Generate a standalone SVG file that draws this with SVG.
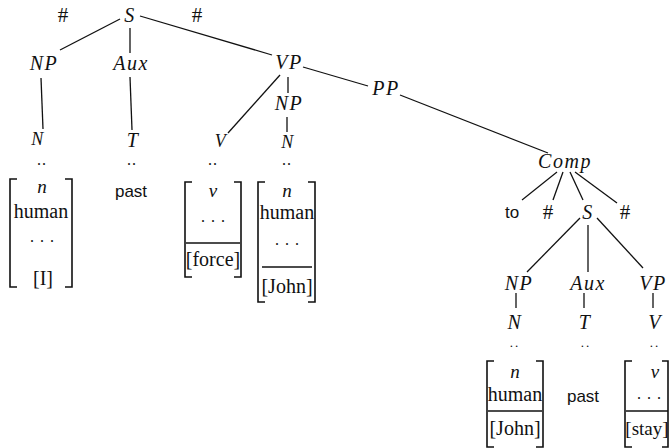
<svg xmlns="http://www.w3.org/2000/svg" width="671" height="448" viewBox="0 0 671 448">
<style>
.cat{font-family:"Liberation Serif",serif;font-style:italic;font-size:20px;letter-spacing:1.5px;fill:#111;text-anchor:middle}
.sm{font-size:18px}
.rm{font-family:"Liberation Serif",serif;font-size:20px;fill:#111;text-anchor:middle}
.it{font-family:"Liberation Serif",serif;font-style:italic;font-size:19px;fill:#111;text-anchor:middle}
.sn{font-family:"Liberation Sans",sans-serif;font-size:17px;fill:#111;text-anchor:middle}
.hs{font-family:"Liberation Serif",serif;font-size:21px;fill:#111;text-anchor:middle}
.dt{font-family:"Liberation Serif",serif;font-size:16px;fill:#111;text-anchor:middle;letter-spacing:1px}
.dtl{font-family:"Liberation Serif",serif;font-size:13px;fill:#111;text-anchor:middle;letter-spacing:2px}
.dt3{font-family:"Liberation Serif",serif;font-size:16px;fill:#111;text-anchor:middle;letter-spacing:6px}
.br{fill:none;stroke:#111;stroke-width:1.6}
.ln{stroke:#111;stroke-width:1.3}
#edges line{stroke:#111;stroke-width:1.3;fill:none}
</style>
<rect width="671" height="448" fill="#fff"/>
<g id="edges">
<line x1="120" y1="19" x2="60" y2="50"/>
<line x1="130" y1="28" x2="130" y2="53"/>
<line x1="140" y1="16" x2="272" y2="55"/>
<line x1="41" y1="78" x2="43" y2="129"/>
<line x1="130" y1="77" x2="132" y2="130"/>
<line x1="280" y1="75" x2="228" y2="133"/>
<line x1="288" y1="77" x2="288" y2="93"/>
<line x1="287" y1="117" x2="287" y2="132"/>
<line x1="303" y1="67" x2="368" y2="86"/>
<line x1="400" y1="95" x2="548" y2="153"/>
<line x1="557" y1="172" x2="522" y2="200"/>
<line x1="563" y1="172" x2="553" y2="200"/>
<line x1="570" y1="172" x2="583" y2="200"/>
<line x1="575" y1="172" x2="617" y2="203"/>
<line x1="580" y1="218" x2="527" y2="272"/>
<line x1="588" y1="225" x2="588" y2="272"/>
<line x1="597" y1="218" x2="643" y2="268"/>
<line x1="516" y1="293" x2="516" y2="308"/>
<line x1="584" y1="293" x2="584" y2="308"/>
<line x1="653" y1="293" x2="653" y2="308"/>
</g>
<g id="hash1"><text class="hs" x="63" y="22">#</text></g>
<g id="S1"><text class="cat" x="130" y="22">S</text></g>
<g id="hash2"><text class="hs" x="197" y="22">#</text></g>
<g id="NP1"><text class="cat" x="44" y="70">NP</text></g>
<g id="Aux1"><text class="cat" x="131" y="70">Aux</text></g>
<g id="VP1"><text class="cat" x="289" y="69">VP</text></g>
<g id="N1"><text class="cat sm" x="38" y="145">N</text></g>
<g id="T1"><text class="cat" x="133" y="147">T</text></g>
<g id="V1"><text class="cat sm" x="221" y="147">V</text></g>
<g id="NP2"><text class="cat" x="289" y="110">NP</text></g>
<g id="N2"><text class="cat sm" x="288" y="148">N</text></g>
<g id="PP"><text class="cat" x="386" y="95">PP</text></g>

<g id="feat1">
<text class="dt" x="42" y="165">..</text>
<path class="br" d="M17,179 H10 V287 H17 M65,179 H72 V287 H65"/>
<text class="it" x="42" y="193">n</text>
<text class="rm" x="41" y="218">human</text>
<text class="dt3" x="45" y="242">...</text>
<text class="rm" x="43" y="285">[I]</text>
</g>
<g id="past1">
<text class="dt" x="132" y="165">..</text>
<text class="sn" x="131" y="197">past</text>
</g>
<g id="feat2">
<text class="dt" x="213" y="165">..</text>
<path class="br" d="M192,182 H185 V277 H192 M234,182 H241 V277 H234"/>
<text class="it" x="213" y="197">v</text>
<text class="dt3" x="216" y="222">...</text>
<line class="ln" x1="186" y1="243" x2="240" y2="243"/>
<text class="rm" x="213" y="266">[force]</text>
</g>
<g id="feat3">
<text class="dt" x="287" y="165">..</text>
<path class="br" d="M265,182 H258 V302 H265 M308,182 H315 V302 H308"/>
<text class="it" x="287" y="197">n</text>
<text class="rm" x="287" y="219">human</text>
<text class="dt3" x="290" y="245">...</text>
<line class="ln" x1="262" y1="267" x2="312" y2="267"/>
<text class="rm" x="287" y="293">[John]</text>
</g>

<g id="Comp"><text class="cat" x="565" y="168">Comp</text></g>
<g id="to"><text class="sn" x="512" y="218">to</text></g>
<g id="hash3"><text class="hs" x="548" y="219">#</text></g>
<g id="S2"><text class="cat" x="588" y="219">S</text></g>
<g id="hash4"><text class="hs" x="625" y="219">#</text></g>
<g id="NP3"><text class="cat" x="519" y="290">NP</text></g>
<g id="Aux2"><text class="cat" x="588" y="290">Aux</text></g>
<g id="VP2"><text class="cat" x="653" y="290">VP</text></g>
<g id="N3"><text class="cat" x="515" y="329">N</text></g>
<g id="T2"><text class="cat" x="585" y="329">T</text></g>
<g id="V2"><text class="cat" x="655" y="329">V</text></g>

<g id="feat4">
<text class="dtl" x="515" y="347">..</text>
<path class="br" d="M494,361 H487 V447 H494 M536,361 H543 V447 H536"/>
<text class="it" x="515" y="378">n</text>
<text class="rm" x="515" y="401">human</text>
<line class="ln" x1="488" y1="411" x2="542" y2="411"/>
<text class="rm" x="515" y="435">[John]</text>
</g>
<g id="past2">
<text class="dtl" x="586" y="347">..</text>
<text class="sn" x="583" y="402">past</text>
</g>
<g id="feat5">
<text class="dtl" x="655" y="347">..</text>
<path class="br" d="M632,361 H625 V447 H632 M662,361 H668 V447 H662"/>
<text class="it" x="655" y="378">v</text>
<text class="dt3" x="652" y="399">...</text>
<line class="ln" x1="626" y1="411" x2="668" y2="411"/>
<text class="rm" x="647" y="435" style="font-size:19px">[stay]</text>
</g>
</svg>
